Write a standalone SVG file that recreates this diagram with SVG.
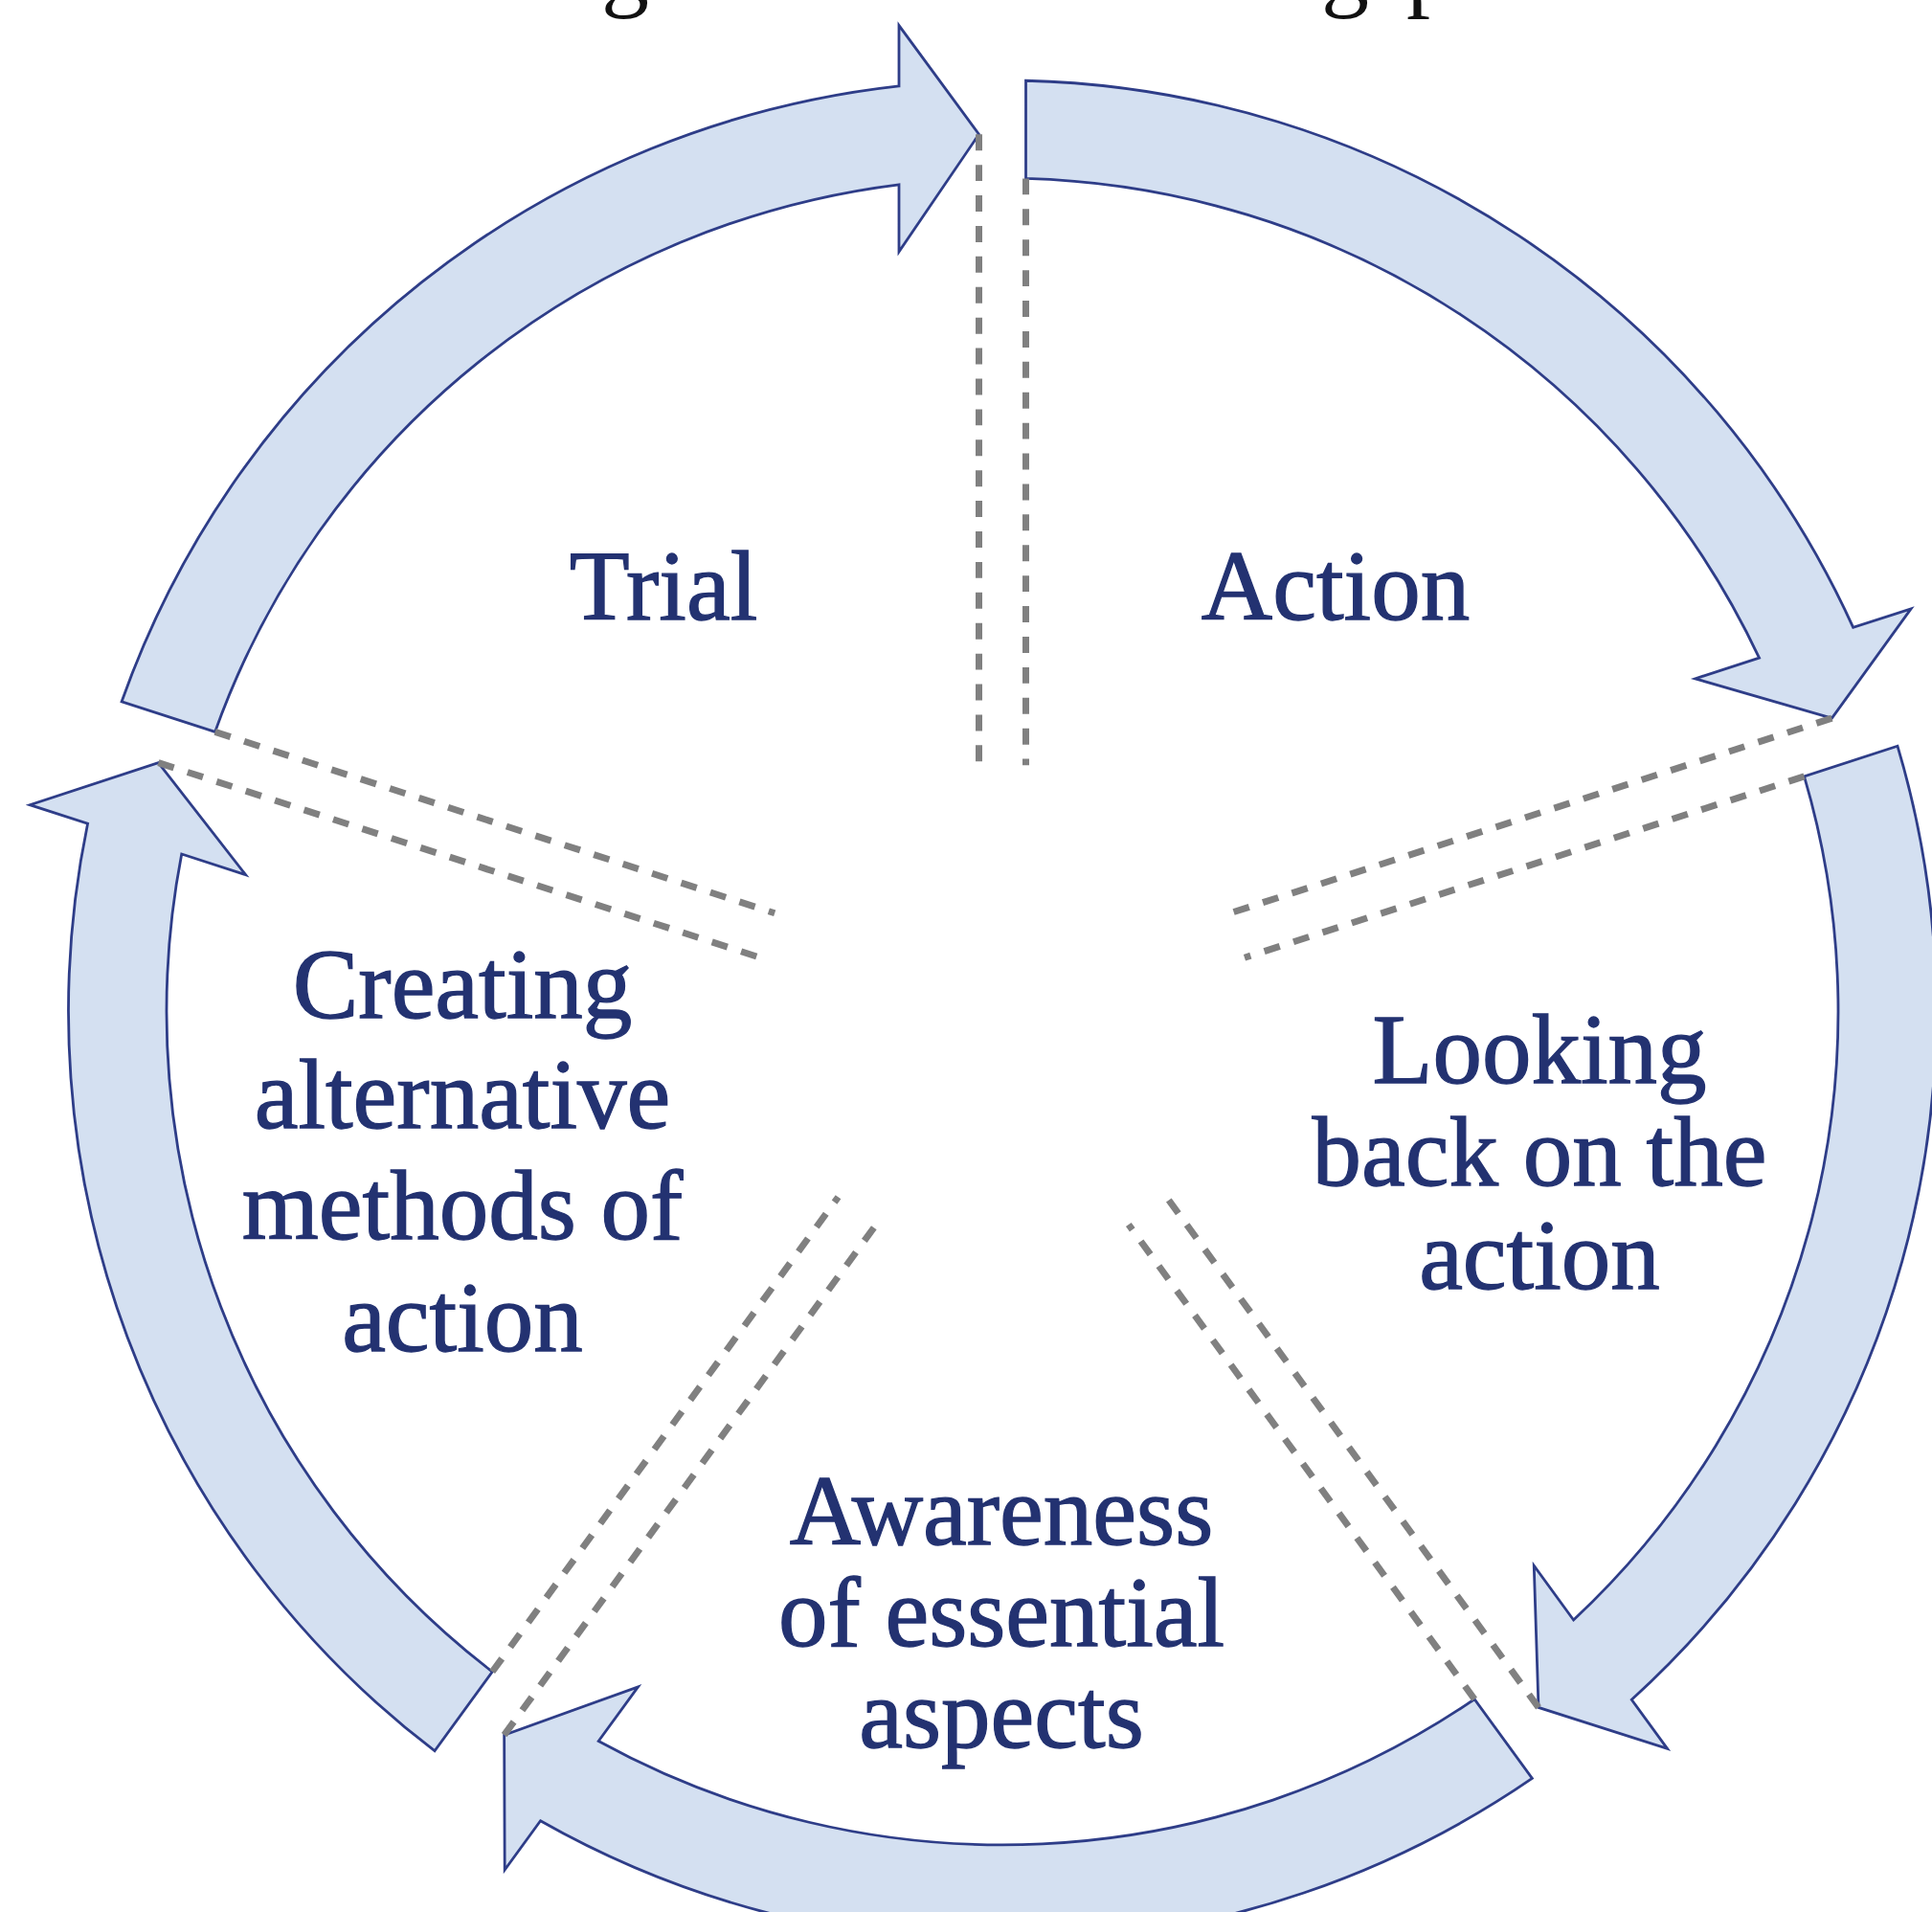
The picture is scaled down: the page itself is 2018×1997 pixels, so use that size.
<svg xmlns="http://www.w3.org/2000/svg" width="2018" height="1997" viewBox="0 0 2018 1997">
  <style>
    .band { fill: #D4E0F1; stroke: #2E3D88; stroke-width: 2.8; stroke-linejoin: miter; }
    .label { font-family: "Liberation Serif", "Times New Roman", serif; font-size: 103px; fill: #233271; stroke: #233271; stroke-width: 1.3; text-anchor: middle; }
    .title { font-family: "Liberation Serif", "Times New Roman", serif; font-size: 100px; fill: #111111; }
    .guide { stroke: #808080; stroke-width: 7; stroke-dasharray: 17 15; fill: none; }
  </style>
  <defs>
    <!-- one curved ring arrow; head sits at the top gap, tail at the upper-left gap -->
    <path id="ringArrow" class="band"
          d="M -919.89 -324.65 A 975.5 975.5 0 0 1 -108 -969.5 L -108 -1033 L -24.5 -919 L -108 -796 L -108 -866.3 A 873 873 0 0 0 -822.38 -292.97 Z"/>
    <!-- pair of dashed guides along one gap of the ring -->
    <g id="gapGuides">
      <line class="guide" x1="-24.5" y1="-919" x2="-24.5" y2="-258"/>
      <line class="guide" x1="24.5" y1="-872.7" x2="24.5" y2="-258"/>
    </g>
  </defs>

  <rect width="2018" height="1997" fill="#ffffff"/>

  <!-- title line cut off at the top edge: only descenders remain -->
  <g id="title-fragment">
    <text class="title" x="628" y="-1">g</text>
    <text class="title" x="1380" y="-1">g</text>
    <text class="title" x="1469" y="-1">p</text>
  </g>

  <g id="node-trial">
    <use href="#ringArrow" transform="translate(1047 1056.5) scale(1 0.997) rotate(0)"/>
    <text class="label" x="693" y="647">Trial</text>
  </g>

  <g id="node-action">
    <use href="#ringArrow" transform="translate(1047 1056.5) scale(1 0.997) rotate(72)"/>
    <text class="label" x="1395" y="647">Action</text>
  </g>

  <g id="node-looking-back">
    <use href="#ringArrow" transform="translate(1047 1056.5) scale(1 0.997) rotate(144)"/>
    <text class="label" x="1608" y="1131">Looking</text>
    <text class="label" x="1608" y="1238">back on the</text>
    <text class="label" x="1608" y="1346">action</text>
  </g>

  <g id="node-awareness">
    <use href="#ringArrow" transform="translate(1047 1056.5) scale(1 0.997) rotate(216)"/>
    <text class="label" x="1046" y="1613">Awareness</text>
    <text class="label" x="1046" y="1719">of essential</text>
    <text class="label" x="1046" y="1825">aspects</text>
  </g>

  <g id="node-creating">
    <use href="#ringArrow" transform="translate(1047 1056.5) scale(1 0.997) rotate(288)"/>
    <text class="label" x="483" y="1063">Creating</text>
    <text class="label" x="483" y="1178">alternative</text>
    <text class="label" x="483" y="1294">methods of</text>
    <text class="label" x="483" y="1411">action</text>
  </g>

  <g id="connectors">
    <use href="#gapGuides" transform="translate(1047 1056.5) scale(1 0.997) rotate(0)"/>
    <use href="#gapGuides" transform="translate(1047 1056.5) scale(1 0.997) rotate(72)"/>
    <use href="#gapGuides" transform="translate(1047 1056.5) scale(1 0.997) rotate(144)"/>
    <use href="#gapGuides" transform="translate(1047 1056.5) scale(1 0.997) rotate(216)"/>
    <use href="#gapGuides" transform="translate(1047 1056.5) scale(1 0.997) rotate(288)"/>
  </g>
</svg>
